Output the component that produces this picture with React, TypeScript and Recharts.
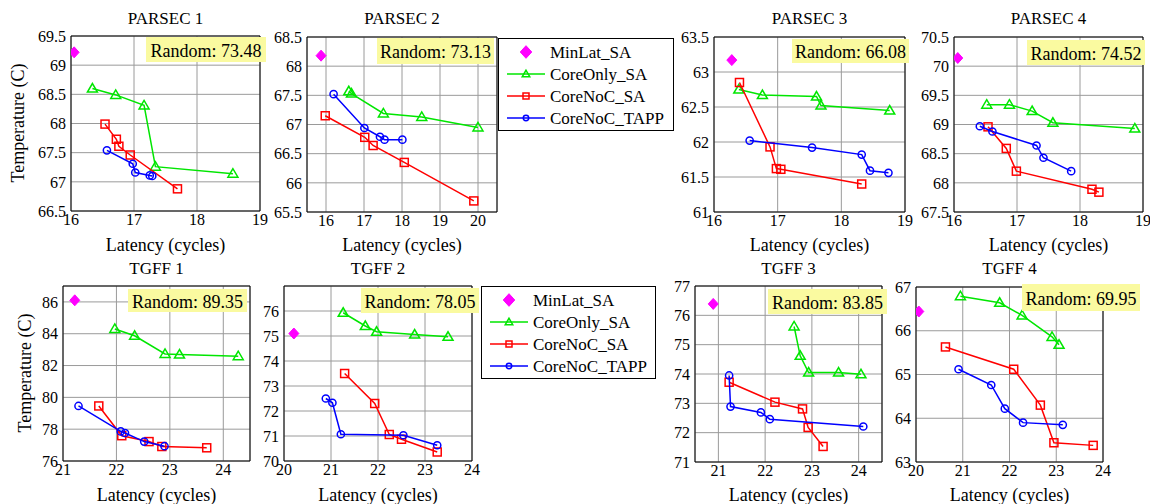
import React from 'react';
import { ScatterChart, Scatter, XAxis, YAxis, CartesianGrid, ReferenceArea } from 'recharts';

type Pt = [number, number];

// panel titles and "Random" temperatures
const titles = ['PARSEC 1', 'PARSEC 2', 'PARSEC 3', 'PARSEC 4', 'TGFF 1', 'TGFF 2', 'TGFF 3', 'TGFF 4'];
const randomValues = ['73.48', '73.13', '66.08', '74.52', '89.35', '78.05', '83.85', '69.95'];
const seriesNames = ['MinLat_SA', 'CoreOnly_SA', 'CoreNoC_SA', 'CoreNoC_TAPP'];

// axis domains and ticks per panel
const xDomains: Pt[] = [[16, 19], [15.5, 20.5], [16, 19], [16, 19], [21, 24.5], [20, 24], [20.5, 24.5], [20, 24]];
const xTicks = [
  [16, 17, 18, 19], [16, 17, 18, 19, 20], [16, 17, 18, 19], [16, 17, 18, 19],
  [21, 22, 23, 24], [20, 21, 22, 23, 24], [21, 22, 23, 24], [20, 21, 22, 23, 24],
];
const yDomains: Pt[] = [[66.5, 69.5], [65.5, 68.5], [61, 63.5], [67.5, 70.5], [76, 87], [70, 77], [71, 77], [63, 67]];
const yTicks = [
  [66.5, 67, 67.5, 68, 68.5, 69, 69.5],
  [65.5, 66, 66.5, 67, 67.5, 68, 68.5],
  [61, 61.5, 62, 62.5, 63, 63.5],
  [67.5, 68, 68.5, 69, 69.5, 70, 70.5],
  [76, 78, 80, 82, 84, 86],
  [70, 71, 72, 73, 74, 75, 76],
  [71, 72, 73, 74, 75, 76, 77],
  [63, 64, 65, 66, 67],
];

// PARSEC 1
const p1MinLat: Pt[] = [[16.05, 69.22]];
const p1CoreOnly: Pt[] = [[16.34, 68.6], [16.71, 68.49], [17.16, 68.31], [17.34, 67.26], [18.57, 67.14]];
const p1CoreNoc: Pt[] = [[16.54, 67.99], [16.72, 67.73], [16.76, 67.61], [16.94, 67.46], [17.69, 66.88]];
const p1Tapp: Pt[] = [[16.57, 67.54], [16.98, 67.31], [17.02, 67.16], [17.25, 67.11], [17.29, 67.1]];
// PARSEC 2
const p2MinLat: Pt[] = [[15.87, 68.18]];
const p2CoreOnly: Pt[] = [[16.6, 67.57], [16.67, 67.53], [17.51, 67.19], [18.52, 67.13], [20.0, 66.95]];
const p2CoreNoc: Pt[] = [[15.98, 67.15], [17.02, 66.78], [17.24, 66.64], [18.06, 66.35], [19.89, 65.69]];
const p2Tapp: Pt[] = [[16.2, 67.52], [17.01, 66.94], [17.42, 66.79], [17.54, 66.74], [18.01, 66.74]];
// PARSEC 3
const p3MinLat: Pt[] = [[16.28, 63.17]];
const p3CoreOnly: Pt[] = [[16.39, 62.75], [16.76, 62.67], [17.61, 62.65], [17.68, 62.52], [18.76, 62.45]];
const p3CoreNoc: Pt[] = [[16.4, 62.85], [16.88, 61.93], [16.98, 61.62], [17.05, 61.61], [18.32, 61.4]];
const p3Tapp: Pt[] = [[16.56, 62.02], [17.54, 61.92], [18.32, 61.82], [18.45, 61.59], [18.74, 61.56]];
// PARSEC 4
const p4MinLat: Pt[] = [[16.06, 70.14]];
const p4CoreOnly: Pt[] = [[16.52, 69.34], [16.88, 69.34], [17.24, 69.23], [17.57, 69.03], [18.87, 68.93]];
const p4CoreNoc: Pt[] = [[16.54, 68.96], [16.83, 68.59], [16.99, 68.2], [18.19, 67.89], [18.3, 67.84]];
const p4Tapp: Pt[] = [[16.41, 68.97], [16.61, 68.88], [17.31, 68.64], [17.42, 68.43], [17.86, 68.2]];
// TGFF 1
const t1MinLat: Pt[] = [[21.22, 86.1]];
const t1CoreOnly: Pt[] = [[21.97, 84.3], [22.34, 83.87], [22.91, 82.73], [23.18, 82.69], [24.28, 82.59]];
const t1CoreNoc: Pt[] = [[21.67, 79.46], [22.1, 77.59], [22.61, 77.22], [22.85, 76.91], [23.69, 76.83]];
const t1Tapp: Pt[] = [[21.29, 79.46], [22.08, 77.86], [22.16, 77.76], [22.52, 77.22], [22.9, 76.93]];
// TGFF 2
const t2MinLat: Pt[] = [[20.21, 75.1]];
const t2CoreOnly: Pt[] = [[21.26, 75.93], [21.73, 75.4], [21.97, 75.17], [22.78, 75.06], [23.49, 74.97]];
const t2CoreNoc: Pt[] = [[21.29, 73.5], [21.93, 72.3], [22.24, 71.06], [22.5, 70.87], [23.26, 70.36]];
const t2Tapp: Pt[] = [[20.89, 72.5], [21.03, 72.33], [21.21, 71.07], [22.54, 71.03], [23.26, 70.63]];
// TGFF 3
const t3MinLat: Pt[] = [[20.89, 76.39]];
const t3CoreOnly: Pt[] = [[22.62, 75.62], [22.75, 74.62], [22.93, 74.05], [23.57, 74.05], [24.05, 73.99]];
const t3CoreNoc: Pt[] = [[21.23, 73.72], [22.21, 73.04], [22.8, 72.81], [22.92, 72.18], [23.24, 71.53]];
const t3Tapp: Pt[] = [[21.23, 73.95], [21.26, 72.89], [21.91, 72.69], [22.1, 72.46], [24.1, 72.21]];
// TGFF 4
const t4MinLat: Pt[] = [[20.06, 66.44]];
const t4CoreOnly: Pt[] = [[20.95, 66.79], [21.79, 66.64], [22.27, 66.35], [22.91, 65.86], [23.06, 65.68]];
const t4CoreNoc: Pt[] = [[20.63, 65.63], [22.09, 65.12], [22.66, 64.3], [22.95, 63.44], [23.79, 63.38]];
const t4Tapp: Pt[] = [[20.91, 65.12], [21.61, 64.76], [21.9, 64.22], [22.29, 63.9], [23.14, 63.85]];

const panelSeries: Pt[][][] = [
  [p1MinLat, p1CoreOnly, p1CoreNoc, p1Tapp],
  [p2MinLat, p2CoreOnly, p2CoreNoc, p2Tapp],
  [p3MinLat, p3CoreOnly, p3CoreNoc, p3Tapp],
  [p4MinLat, p4CoreOnly, p4CoreNoc, p4Tapp],
  [t1MinLat, t1CoreOnly, t1CoreNoc, t1Tapp],
  [t2MinLat, t2CoreOnly, t2CoreNoc, t2Tapp],
  [t3MinLat, t3CoreOnly, t3CoreNoc, t3Tapp],
  [t4MinLat, t4CoreOnly, t4CoreNoc, t4Tapp],
];

// layout (page pixels)
const plots = [
  { x: 71, y: 36, w: 189, h: 175 },
  { x: 307, y: 37, w: 190, h: 175 },
  { x: 714, y: 37, w: 191, h: 175 },
  { x: 954, y: 37, w: 189, h: 175 },
  { x: 63, y: 286, w: 187, h: 175 },
  { x: 284, y: 286, w: 188, h: 175 },
  { x: 695, y: 286, w: 187, h: 176 },
  { x: 916, y: 287, w: 187, h: 175 },
];
const randomBoxes = [
  { x: 146, y: 37, w: 120, h: 25 },
  { x: 377, y: 38, w: 117, h: 26 },
  { x: 792, y: 39, w: 117, h: 24 },
  { x: 1027, y: 40, w: 118, h: 25 },
  { x: 128, y: 289, w: 119, h: 23 },
  { x: 361, y: 288, w: 118, h: 25 },
  { x: 768, y: 289, w: 119, h: 25 },
  { x: 1022, y: 284, w: 118, h: 27 },
];
const legends = [
  { x: 498, y: 38, w: 175, h: 92 },
  { x: 481, y: 286, w: 174, h: 92 },
];

const FONT = 'Liberation Serif';
const colors = ['#ff00ff', '#00e600', '#ff0000', '#0000ff'];
const kinds = ['diamond', 'triangle', 'square', 'circle'];

function Marker({ kind, color, cx, cy, s = 1 }: { kind: string; color: string; cx: number; cy: number; s?: number }) {
  if (kind === 'diamond') {
    return <polygon points={`${cx},${cy - 5.5 * s} ${cx + 5 * s},${cy} ${cx},${cy + 5.5 * s} ${cx - 5 * s},${cy}`} fill={color} stroke={color} />;
  }
  if (kind === 'triangle') {
    return <polygon points={`${cx},${cy - 5 * s} ${cx - 5 * s},${cy + 3.5 * s} ${cx + 5 * s},${cy + 3.5 * s}`} fill="none" stroke={color} strokeWidth={1.5} />;
  }
  if (kind === 'square') {
    return <rect x={cx - 4 * s} y={cy - 4 * s} width={8 * s} height={8 * s} fill="none" stroke={color} strokeWidth={1.5} />;
  }
  return <circle cx={cx} cy={cy} r={3.6 * s} fill="none" stroke={color} strokeWidth={1.5} />;
}

const shapeFor = (kind: string, color: string) => (props: any) => {
  const { cx, cy } = props;
  if (cx == null || cy == null) return <g />;
  return <Marker kind={kind} color={color} cx={cx} cy={cy} />;
};

const tickStyle = { fill: '#000', fontSize: 16, fontFamily: FONT };

function Panel({ i }: { i: number }) {
  const ML = 45, MT = 10, MR = 12, MB = 30;
  const p = plots[i];
  const xd = xDomains[i];
  const yd = yDomains[i];
  return (
    <div style={{ position: 'absolute', left: p.x - ML, top: p.y - MT }}>
      <ScatterChart width={p.w + ML + MR} height={p.h + MT + MB} margin={{ top: MT, right: MR, bottom: 0, left: 0 }}>
        <CartesianGrid stroke="#9a9a9a" />
        <XAxis
          type="number"
          dataKey="x"
          domain={xd}
          ticks={xTicks[i]}
          interval={0}
          height={MB}
          axisLine={false}
          tickLine={false}
          tickSize={0}
          tickMargin={3}
          tick={tickStyle}
          allowDataOverflow
        />
        <YAxis
          type="number"
          dataKey="y"
          domain={yd}
          ticks={yTicks[i]}
          interval={0}
          width={ML}
          axisLine={false}
          tickLine={false}
          tickSize={0}
          tickMargin={5}
          tick={tickStyle}
          allowDataOverflow
        />
        <ReferenceArea x1={xd[0]} x2={xd[1]} y1={yd[0]} y2={yd[1]} fill="none" stroke="#000" strokeWidth={1} fillOpacity={0} ifOverflow="visible" />
        {panelSeries[i].map((pts, k) => (
          <Scatter
            key={k}
            name={seriesNames[k]}
            data={pts.map(([x, y]) => ({ x, y }))}
            line={k === 0 ? false : { stroke: colors[k], strokeWidth: 1.5 }}
            shape={shapeFor(kinds[k], colors[k])}
            isAnimationActive={false}
          />
        ))}
      </ScatterChart>
    </div>
  );
}

function Legend({ x, y, w, h }: { x: number; y: number; w: number; h: number }) {
  const rows = [14, 36, 58, 80];
  return (
    <g transform={`translate(${x},${y})`}>
      <rect x={0.5} y={0.5} width={w} height={h} fill="#fff" stroke="#000" strokeWidth={1} />
      {seriesNames.map((n, k) => (
        <g key={n}>
          {k > 0 && <line x1={9} x2={47} y1={rows[k]} y2={rows[k]} stroke={colors[k]} strokeWidth={1.5} />}
          <Marker kind={kinds[k]} color={colors[k]} cx={28} cy={rows[k]} s={k === 0 ? 1.15 : 0.75} />
          <text x={52} y={rows[k]} dominantBaseline="central" fontSize={17} fontFamily={FONT} fill="#000">{n}</text>
        </g>
      ))}
    </g>
  );
}

export default function App() {
  return (
    <div style={{ position: 'absolute', left: 0, top: 0, width: 1150, height: 504, background: '#fff', fontFamily: FONT }}>
      {plots.map((_, i) => <Panel key={i} i={i} />)}
      <svg width={1150} height={504} style={{ position: 'absolute', left: 0, top: 0, pointerEvents: 'none' }}>
        {plots.map((p, i) => {
          const top = i < 4;
          const rb = randomBoxes[i];
          return (
            <g key={i}>
              <text x={p.x + p.w / 2} y={top ? 18 : 268} textAnchor="middle" dominantBaseline="central" fontSize={17} fontFamily={FONT}>{titles[i]}</text>
              <text x={p.x + p.w / 2} y={top ? 245 : 495} textAnchor="middle" dominantBaseline="central" fontSize={18} fontFamily={FONT}>Latency (cycles)</text>
              <rect x={rb.x} y={rb.y} width={rb.w} height={rb.h} fill="#fafaa0" />
              <text x={rb.x + rb.w / 2} y={rb.y + rb.h / 2 + 1} textAnchor="middle" dominantBaseline="central" fontSize={18} fontFamily={FONT}>Random: {randomValues[i]}</text>
            </g>
          );
        })}
        <text transform="translate(18,123) rotate(-90)" textAnchor="middle" dominantBaseline="central" fontSize={18} fontFamily={FONT}>Temperature (C)</text>
        <text transform="translate(25,373) rotate(-90)" textAnchor="middle" dominantBaseline="central" fontSize={18} fontFamily={FONT}>Temperature (C)</text>
        {legends.map((l, i) => <Legend key={i} {...l} />)}
      </svg>
    </div>
  );
}
